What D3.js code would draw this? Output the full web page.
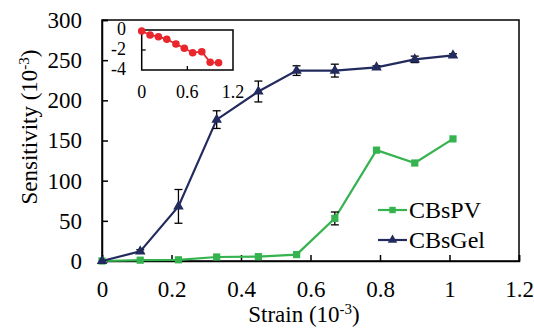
<!DOCTYPE html>
<html>
<head>
<meta charset="utf-8">
<script src="https://cdn.jsdelivr.net/npm/d3@7"></script>
<style>
  body { margin: 0; background: #fff; }
</style>
</head>
<body>
<div id="chart-area"></div>
<script>
// data
var strain = [0, 0.11, 0.22, 0.33, 0.45, 0.56, 0.67, 0.79, 0.9, 1.01]
var gelValues = [0, 12, 68, 176, 211, 237, 237, 241, 251, 256]
var gelErrors = [0, 2, 21, 11, 13, 6, 8, 2, 4, 2]
var pvValues = [0, 1, 1.5, 5, 5.5, 8, 53, 138, 122, 152]
var pvErrors = [0, 0, 0, 0, 0, 0, 8, 0, 0, 0]
var insetValues = [-0.1, -0.5, -0.67, -0.93, -1.4, -1.83, -2.27, -2.17, -3.23, -3.27]
var insetErrors = [0, 0, 0, 0, 0.2, 0, 0, 0.2, 0, 0]
var xTicks = [0, 0.2, 0.4, 0.6, 0.8, 1, 1.2]
var yTicks = [0, 50, 100, 150, 200, 250, 300]
var insetXTicks = [0, 0.6, 1.2]
var insetYTicks = [0, -2, -4]

var navy = "#222a5e", green = "#35b34f", red = "#e8262b"
var serif = "'Liberation Serif'"

var width = 534, height = 328

var svg = d3.select("#chart-area")
    .append("svg")
        .attr("width", width)
        .attr("height", height)

// scales
var x = d3.scaleLinear().domain([0, 1.2]).range([102, 519])
var y = d3.scaleLinear().domain([0, 300]).range([261, 20])

// frame
svg.append("rect")
    .attr("x", x(0))
    .attr("y", y(300))
    .attr("width", x(1.2) - x(0))
    .attr("height", y(0) - y(300))
    .attr("fill", "none")
    .attr("stroke", "#000")
    .attr("stroke-width", 1.5)

// X Axis
var xAxisCall = d3.axisBottom(x)
    .tickValues(xTicks)
    .tickSize(-6)
    .tickPadding(20)
    .tickFormat(function(d){ return d })
var xAxis = svg.append("g")
    .attr("transform", "translate(0," + y(0) + ")")
    .call(xAxisCall)
xAxis.select(".domain").attr("stroke-width", 1.5)
xAxis.selectAll("line").attr("stroke-width", 1.5)

// Y Axis
var yAxisCall = d3.axisLeft(y)
    .tickValues(yTicks)
    .tickSize(-6)
    .tickPadding(20)
var yAxis = svg.append("g")
    .attr("transform", "translate(" + x(0) + ",0)")
    .call(yAxisCall)
yAxis.select(".domain").attr("stroke-width", 1.5)
yAxis.selectAll("line").attr("stroke-width", 1.5)

// X Label
var xLabel = svg.append("text")
    .attr("x", 304)
    .attr("y", 322)
    .style("font-size", "23px")
    .attr("text-anchor", "middle")
xLabel.append("tspan").text("Strain (10")
xLabel.append("tspan").attr("dy", -8).style("font-size", "15px").text("-3")
xLabel.append("tspan").attr("dy", 8).text(")")

// Y Label
var yLabel = svg.append("text")
    .attr("transform", "translate(37,127) rotate(-90)")
    .style("font-size", "23px")
    .attr("text-anchor", "middle")
yLabel.append("tspan").text("Sensitivity (10")
yLabel.append("tspan").attr("dy", -8).style("font-size", "15px").text("-3")
yLabel.append("tspan").attr("dy", 8).text(")")

// series
var series = [
    { name: "CBsPV", values: pvValues, errors: pvErrors, color: green, symbol: d3.symbolSquare, size: 52 },
    { name: "CBsGel", values: gelValues, errors: gelErrors, color: navy, symbol: d3.symbolTriangle, size: 48 }
]

var line = d3.line()
    .x(function(d){ return x(d[0]) })
    .y(function(d){ return y(d[1]) })

series.forEach(function(s) {
    var pts = strain.map(function(v, i){ return [v, s.values[i], s.errors[i]] })

    svg.append("path")
        .datum(pts)
        .attr("d", line)
        .attr("fill", "none")
        .attr("stroke", s.color)
        .attr("stroke-width", 2.2)

    // error bars
    var eb = svg.selectAll(null)
        .data(pts.filter(function(d){ return d[2] > 0 }))
        .enter().append("g")
        .attr("stroke", "#000")
        .attr("stroke-width", 1.3)
    eb.append("line")
        .attr("x1", function(d){ return x(d[0]) })
        .attr("x2", function(d){ return x(d[0]) })
        .attr("y1", function(d){ return y(d[1] - d[2]) })
        .attr("y2", function(d){ return y(d[1] + d[2]) })
    eb.append("line")
        .attr("x1", function(d){ return x(d[0]) - 4 })
        .attr("x2", function(d){ return x(d[0]) + 4 })
        .attr("y1", function(d){ return y(d[1] + d[2]) })
        .attr("y2", function(d){ return y(d[1] + d[2]) })
    eb.append("line")
        .attr("x1", function(d){ return x(d[0]) - 4 })
        .attr("x2", function(d){ return x(d[0]) + 4 })
        .attr("y1", function(d){ return y(d[1] - d[2]) })
        .attr("y2", function(d){ return y(d[1] - d[2]) })

    svg.selectAll(null)
        .data(pts)
        .enter().append("path")
        .attr("d", d3.symbol().type(s.symbol).size(s.size))
        .attr("transform", function(d){ return "translate(" + x(d[0]) + "," + y(d[1]) + ")" })
        .attr("fill", s.color)
})

// Legend
series.forEach(function(s, i) {
    var ly = 210 + i * 30
    svg.append("line")
        .attr("x1", 378).attr("x2", 407)
        .attr("y1", ly).attr("y2", ly)
        .attr("stroke", s.color)
        .attr("stroke-width", 2.2)
    svg.append("path")
        .attr("d", d3.symbol().type(s.symbol).size(s.size * 0.8))
        .attr("transform", "translate(392.5," + ly + ")")
        .attr("fill", s.color)
    svg.append("text")
        .attr("x", 409)
        .attr("y", ly + 8)
        .style("font-size", "24px")
        .text(s.name)
})

// Inset
var ix = d3.scaleLinear().domain([0, 1.2]).range([141.7, 233])
var iy = d3.scaleLinear().domain([-4, 0]).range([70, 30])

svg.append("rect")
    .attr("x", ix(0))
    .attr("y", iy(0))
    .attr("width", ix(1.2) - ix(0))
    .attr("height", iy(-4) - iy(0))
    .attr("fill", "#fff")
    .attr("stroke", "#000")
    .attr("stroke-width", 1.5)

// inset ticks
svg.selectAll(null)
    .data(insetXTicks.slice(1, 2))
    .enter().append("line")
    .attr("x1", function(d){ return ix(d) })
    .attr("x2", function(d){ return ix(d) })
    .attr("y1", iy(-4))
    .attr("y2", iy(-4) - 4)
    .attr("stroke", "#000")
    .attr("stroke-width", 1.3)
svg.selectAll(null)
    .data(insetYTicks.slice(1, 2))
    .enter().append("line")
    .attr("x1", ix(0))
    .attr("x2", ix(0) + 4)
    .attr("y1", function(d){ return iy(d) })
    .attr("y2", function(d){ return iy(d) })
    .attr("stroke", "#000")
    .attr("stroke-width", 1.3)

svg.selectAll(null)
    .data(insetXTicks)
    .enter().append("text")
    .attr("x", function(d){ return ix(d) })
    .attr("y", 98)
    .style("font-size", "18px")
    .attr("text-anchor", "middle")
    .text(function(d){ return d })
svg.selectAll(null)
    .data(insetYTicks)
    .enter().append("text")
    .attr("x", 126)
    .attr("y", function(d){ return iy(d) + 5 })
    .style("font-size", "18px")
    .attr("text-anchor", "end")
    .text(function(d){ return d })

var insetPts = strain.map(function(v, i){ return [v, insetValues[i], insetErrors[i]] })
var iline = d3.line()
    .x(function(d){ return ix(d[0]) })
    .y(function(d){ return iy(d[1]) })

svg.append("path")
    .datum(insetPts)
    .attr("d", iline)
    .attr("fill", "none")
    .attr("stroke", red)
    .attr("stroke-width", 1.8)

svg.selectAll(null)
    .data(insetPts.filter(function(d){ return d[2] > 0 }))
    .enter().append("path")
    .attr("d", function(d) {
        var cx = ix(d[0]), t = iy(d[1] + d[2]), b = iy(d[1] - d[2])
        return "M" + cx + "," + t + "V" + b + "M" + (cx - 3) + "," + t + "H" + (cx + 3) +
            "M" + (cx - 3) + "," + b + "H" + (cx + 3)
    })
    .attr("stroke", "#000")
    .attr("stroke-width", 1.2)

svg.selectAll(null)
    .data(insetPts)
    .enter().append("circle")
    .attr("cx", function(d){ return ix(d[0]) })
    .attr("cy", function(d){ return iy(d[1]) })
    .attr("r", 3.8)
    .attr("fill", red)

// fonts, set on every text
svg.selectAll("text")
    .style("font-family", serif)
    .attr("fill", "#000")
xAxis.selectAll("text").style("font-size", "23px")
yAxis.selectAll("text").style("font-size", "23px")
</script>
</body>
</html>
